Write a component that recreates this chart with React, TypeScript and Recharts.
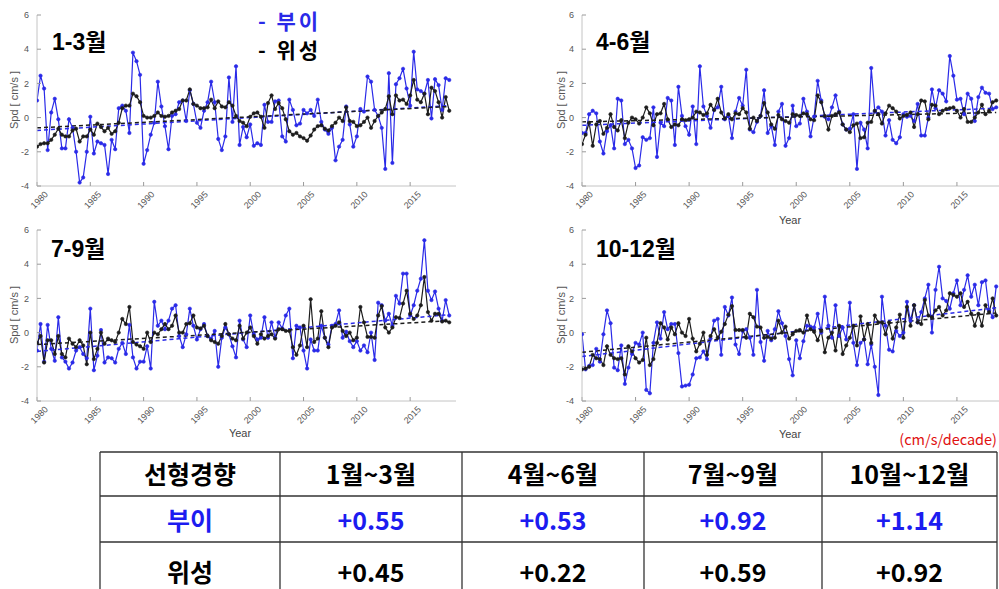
import React from 'react';
import { LineChart, Line, XAxis, YAxis, ReferenceLine } from 'recharts';

// ---------- data ----------
const START_YEAR = 1980;
const POINTS_PER_YEAR = 3;
const X_DOMAIN: [number, number] = [1980, 2019.3];
const Y_DOMAIN: [number, number] = [-4, 6];
const xTicks = [1980, 1985, 1990, 1995, 2000, 2005, 2010, 2015];
const yTicks = [-4, -2, 0, 2, 4, 6];

const panelTitles = ['1-3월', '4-6월', '7-9월', '10-12월'];
const legendLabels = ['- 부이', '- 위성'];

const buoyJanMar = [
  1.0, 2.45, 1.7, -1.9, 0.3, 1.1, -0.1, -1.8, -1.8, -0.1,
  -0.6, -2.0, -3.8, -3.5, -2.0, 0.05, -2.1, -1.4, -1.5, -1.6,
  -3.3, -1.3, -1.85, 0.55, 0.7, 0.4, -0.9, 3.8, 3.3, 2.5,
  -2.7, -1.9, -1.0, -0.3, 2.1, 0.65, -0.5, -1.85, 0.1, 0.2,
  0.9, 1.0, -0.2, 1.6, 0.8, -0.3, -0.6, 0.4, 0.9, 2.1,
  0.9, -1.25, -1.9, -1.1, 2.35, -0.25, 3.0, -1.6, -0.55, -1.15,
  -0.4, -1.65, -1.5, -1.6, 0.75, -0.25, -0.25, 0.95, 1.0, -1.1,
  -1.4, 1.05, 0.45, -0.45, -0.35, 0.45, 0.25, 0.45, 0.1, 1.05,
  -0.25, -0.7, -0.95, -0.6, -2.5, -1.7, -1.3, 0.65, -0.4, -1.7,
  -1.1, 0.5, 0.35, 2.4, 2.1, 0.45, 0.1, -0.6, -3.0, 2.6,
  -2.65, 1.95, 2.3, 2.85, 1.7, 0.7, 3.85, 1.65, 1.55, 1.4,
  2.2, -0.05, 2.25, 1.9, 0.45, 2.3, 2.2,
];
const satJanMar = [
  -1.7, -1.55, -1.5, -1.5, -1.3, -1.0, -0.65, -1.0, -1.1, -1.1,
  -0.75, -0.65, -1.4, -1.1, -1.1, -0.7, -1.0, -0.35, -0.55, -0.8,
  -0.6, -0.95, -0.8, -0.3, 0.55, 0.7, 0.7, 1.4, 1.25, 0.9,
  0.1, 0.0, 0.0, 0.1, 0.3, 0.1, 0.05, 0.1, 0.3, 0.4,
  0.5, 1.0, 1.0, 1.65, 0.8, 0.7, 0.55, 0.55, 0.6, 1.05,
  0.55, 0.95, 0.65, 0.6, 0.9, 0.7, 0.1, -0.2, -0.3, -0.5,
  0.05, 0.25, 0.3, 0.05, -0.6, 0.85, 1.3, 0.5, 0.85, 0.55,
  -0.1, -0.8, -1.0, -0.9, -1.1, -1.2, -1.35, -1.05, -0.7, -0.5,
  -0.45, -0.65, -0.75, -0.5, -0.3, 0.0, -0.2, 0.6, -0.2, -0.25,
  -0.5, -0.45, -0.25, 0.0, -0.6, -0.2, 0.1, 0.3, 0.5, 1.25,
  0.2, 1.3, 1.0, 1.05, 0.8, 1.3, 2.2, 1.05, 0.9, 1.4,
  0.2, 1.75, 1.55, 0.9, 0.0, 1.2, 0.4,
];

const buoyAprJun = [
  -0.9, -0.9, 0.2, 0.4, 0.25, -1.4, -2.1, -0.8, -0.45, -1.8,
  1.1, 1.0, -1.55, -1.3, -1.8, -2.95, -2.8, -1.15, -1.3, -1.2,
  0.6, -2.3, -0.3, -0.5, 1.15, 1.0, -1.6, 1.8, 0.1, -0.5,
  -1.0, 0.65, -1.55, 3.0, 0.65, 0.1, -0.6, 0.45, 0.6, 1.8,
  -0.1, 0.1, -1.2, 0.35, 1.15, 0.7, 2.8, -0.7, -0.85, -0.25,
  0.1, 1.6, -0.9, -0.5, -1.6, 0.35, 0.8, -1.65, -1.2, 0.7,
  -0.5, -0.35, 1.1, 0.35, -1.1, 0.05, 2.15, 1.0, 0.05, -0.1,
  0.6, 1.3, 0.35, -0.4, -0.7, -0.65, 0.2, -3.0, -0.3, -0.7,
  -1.8, 2.9, 0.35, 0.6, 0.35, -1.05, -0.15, -1.3, -1.5, -1.15,
  0.2, 0.05, 0.1, -0.2, 0.8, -1.05, -1.05, 0.0, 1.65, 0.55,
  1.6, 1.4, 0.95, 3.6, 2.45, 1.05, 1.1, 0.2, 1.4, 1.1,
  -0.2, 1.2, 1.75, 1.45, 1.4, 0.5, 0.6,
];
const satAprJun = [
  -1.55, -1.0, -0.3, -1.65, -0.4, -0.2, -0.95, -0.6, 0.2, -0.55,
  -0.75, -0.15, -1.2, -0.3, 0.0, -0.1, -0.35, 0.0, 0.6, 0.25,
  -0.45, 0.2, 0.25, 0.8, -0.1, -0.55, -0.4, -0.45, -0.1, -0.15,
  -0.1, 0.0, 0.35, 0.3, 0.15, 0.25, 0.75, 0.45, 1.1, 0.3,
  -0.05, 0.2, -0.1, 0.25, 0.2, 0.55, 0.3, -0.65, 0.0, -0.2,
  0.1, 0.85, 0.3, -0.4, -0.65, 0.15, -0.1, -0.2, -0.3, 0.2,
  0.15, 0.1, 0.25, 0.2, -0.1, -0.15, 1.3, 0.9, 0.1, -0.7,
  0.1, 0.2, 0.3, -0.4, -0.7, -0.85, -0.45, -0.35, -1.2, -1.15,
  -0.3, -0.25, 0.4, 0.2, -0.35, 0.25, 0.7, 0.55, 0.35, -0.05,
  0.1, 0.15, 0.3, -0.55, 0.2, 1.0, 0.95, -0.1, 0.75, 0.7,
  0.2, 0.4, 0.5, 0.55, 0.6, 0.4, 0.0, 0.5, -0.25, -0.25,
  0.0, 0.3, 0.75, 0.2, 0.4, 0.9, 1.0,
];

const buoyJulSep = [
  -1.05, 0.5, -1.7, 0.45, -0.95, -1.65, 0.9, -1.45, -1.7, -2.1,
  -1.75, -1.05, -0.85, -1.25, -1.5, 1.4, -2.2, -1.35, 0.15, -1.75,
  -1.45, -1.5, -1.75, -0.95, -0.6, -1.25, 0.45, -1.45, -2.1, -1.7,
  -1.7, -0.8, -2.1, 1.8, 0.4, 0.7, 0.2, 0.7, 1.4, 1.6,
  -0.2, -0.85, -0.1, 1.4, 0.4, -0.4, 0.2, 0.5, -0.2, -0.35,
  0.1, -2.0, -0.3, 0.3, -0.1, -0.8, -1.45, 0.7, -0.4, -0.85,
  1.0, -0.1, -0.4, -0.3, 0.9, -0.3, 0.6, -0.3, 0.6, 0.25,
  1.0, 1.4, -1.5, 0.4, 0.3, -1.05, -2.1, -0.4, -1.05, -1.05,
  0.4, -0.3, -0.7, 0.4, 0.5, 1.3, -0.3, 0.05, -0.5, -0.85,
  -0.5, -1.05, -0.75, -1.15, 0.0, -1.6, 1.75, 1.6, 0.7, 1.1,
  0.4, 2.15, 1.7, 3.45, 3.45, 1.0, 1.6, 2.45, 3.15, 5.4,
  2.45, 1.9, 2.4, 1.4, 0.7, 1.9, 1.0,
];
const satJulSep = [
  -0.6, -0.2, -1.75, -0.45, -0.45, -1.25, -0.2, -1.25, -1.45, -0.35,
  -0.65, -0.85, -0.45, -0.75, -1.85, 0.0, -1.55, -0.95, 0.0, -0.65,
  -0.35, -0.45, -0.55, 0.0, 0.8, 0.5, 1.5, -0.55, -0.7, -0.8,
  -0.95, 0.0, -0.55, 0.0, -0.1, 0.2, 0.5, 0.2, 0.4, 1.0,
  0.0, 0.0, 0.5, 0.55, 1.0, 0.3, 0.25, 0.4, -0.2, -0.45,
  -0.55, -0.65, -0.2, 0.5, -0.1, -0.35, -0.45, 0.4, -0.35, 0.0,
  0.3, -0.2, -0.65, -0.1, -0.35, -0.2, -0.1, -0.35, 0.2, 0.2,
  0.1, 0.1, -0.85, -1.3, -0.75, 0.4, -0.85, 1.95, -0.55, -0.35,
  1.25, -0.3, -0.85, 0.3, 0.4, 0.6, 0.1, -0.2, 0.0, -0.45,
  -0.3, 1.5, 0.6, -0.25, -0.25, -0.3, 1.0, 1.55, 0.3, 0.0,
  0.3, 0.9, 0.85, 1.7, 2.45, 1.1, 0.8, 1.0, 1.6, 3.25,
  1.2, 0.7, 1.1, 1.1, 0.65, 0.7, 0.6,
];

const buoyOctDec = [
  -0.1, -2.15, -1.95, -1.9, -0.95, -1.7, -0.1, 1.3, 0.55, -2.05,
  -2.2, -0.75, -3.0, -2.05, -1.25, -0.6, -0.7, 0.0, -3.35, -3.55,
  -0.6, 0.6, -0.35, 1.2, 0.2, 0.5, 0.5, -1.2, -3.15, -3.1,
  -3.05, -2.45, -1.5, -1.45, -1.1, -1.55, -0.35, 0.7, 0.8, -1.3,
  1.5, 1.0, 2.05, -0.7, -1.25, 0.1, 0.2, -0.3, -1.3, 2.5,
  -0.55, -1.65, 0.1, -0.45, 0.2, 1.25, 0.55, -0.2, -1.55, -2.5,
  -0.45, -1.5, -0.5, 0.4, 0.35, 0.3, 1.1, 0.0, 2.1, 0.4,
  -0.3, 1.6, -0.2, 0.3, -0.4, 1.75, -0.6, -1.9, -0.6, -0.4,
  -1.85, -0.7, -2.0, -3.65, 2.1, 0.4, -1.0, -1.1, 0.1, -0.2,
  0.0, 1.8, 0.7, 1.6, 0.6, 1.2, 2.0, 2.8, 0.0, 2.5,
  3.85, 2.0, 1.85, 1.4, 2.3, 3.05, 1.6, 2.5, 3.35, 2.1,
  2.8, 1.6, 2.95, 3.05, 1.3, 0.9, 2.7,
];
const satOctDec = [
  -2.15, -2.1, -2.0, -1.3, -1.5, -1.55, -1.9, -0.8, -1.3, -1.5,
  -1.55, -1.5, -2.45, -0.8, -1.1, -1.5, -1.75, -1.6, -0.3, -1.9,
  -1.55, -0.6, 0.55, 0.3, -0.4, 0.3, -0.1, 0.55, 0.0, -0.2,
  0.8, -0.35, -1.1, -0.65, 0.0, -1.3, -0.2, 0.2, -0.3, 0.05,
  0.5, 1.05, 1.55, 0.15, 0.15, 0.15, -0.3, 1.1, 0.9, 0.35,
  0.3, -0.3, -0.25, -0.35, -0.3, 0.7, 0.0, 0.35, -0.35, -0.1,
  0.1, 0.15, 0.0, 1.0, 0.2, 0.05, -0.45, 0.1, -1.15, -0.3,
  0.0, -1.05, 0.4, -1.25, -0.75, -0.3, 0.4, -0.75, 0.95, -0.4,
  0.5, -0.6, 1.0, 0.6, 0.6, -0.1, 0.6, -0.35, 0.3, 1.05,
  -0.3, 1.5, 0.4, 1.6, 0.6, 0.5, 1.9, 1.0, 0.9, 1.3,
  1.5, 1.0, 1.3, 2.3, 2.2, 2.1, 2.3, 1.5, 1.8, 1.1,
  0.4, 1.1, 0.4, 1.6, 1.2, 2.0, 1.0,
];

// linear-trend end values [start, end]
const trendBuoy = [[-0.75, 0.7], [-0.45, 0.55], [-1.1, 1.05], [-1.4, 1.45]];
const trendSat = [[-0.6, 0.65], [-0.25, 0.3], [-0.7, 0.7], [-1.15, 1.15]];

// table
const tableHeader = ['선형경향', '1월~3월', '4월~6월', '7월~9월', '10월~12월'];
const tableBuoy = ['부이', '+0.55', '+0.53', '+0.92', '+1.14'];
const tableSat = ['위성', '+0.45', '+0.22', '+0.59', '+0.92'];
const unitLabel = '(cm/s/decade)';

// ---------- styles ----------
const BLUE = '#2a2ae8';
const BLACK = '#1c1c1c';
const AXIS = '#c4c4c4';
const TICKLINE = '#9a9a9a';
const TICK_TEXT = '#555555';
const FONT = '"Liberation Sans", Arial, "Noto Sans CJK KR", sans-serif';
const KFONT = '"Noto Sans CJK KR", "Liberation Sans", sans-serif';

const panels = [
  { buoy: buoyJanMar, sat: satJanMar, left: 0, top: 0, width: 470, mLeft: 0, mRight: 14 },
  { buoy: buoyAprJun, sat: satAprJun, left: 530, top: 0, width: 480, mLeft: 15, mRight: 7 },
  { buoy: buoyJulSep, sat: satJulSep, left: 0, top: 215, width: 470, mLeft: 0, mRight: 14 },
  { buoy: buoyOctDec, sat: satOctDec, left: 530, top: 215, width: 480, mLeft: 15, mRight: 7 },
];

function buildRows(b: number[], s: number[]) {
  return b.map((v, i) => ({ x: START_YEAR + i / POINTS_PER_YEAR, b: v, s: s[i] }));
}

const XTick = (props: any) => {
  const { x, y, payload } = props;
  const ax = x + 11.5;
  const ay = y + 13;
  return (
    <text x={ax} y={ay} transform={`rotate(-45 ${ax} ${ay})`} textAnchor="end" fontSize={9} fill={TICK_TEXT} fontFamily={FONT}>
      {payload.value}
    </text>
  );
};

function Panel({ idx }: { idx: number }) {
  const p = panels[idx];
  const rows = buildRows(p.buoy, p.sat);
  const lastX = rows[rows.length - 1].x;
  const tb = trendBuoy[idx];
  const ts = trendSat[idx];
  return (
    <div style={{ position: 'absolute', left: p.left, top: p.top }}>
      <LineChart width={p.width} height={230} data={rows} margin={{ top: 15, right: p.mRight, left: p.mLeft, bottom: 14 }}>
        <XAxis dataKey="x" type="number" domain={X_DOMAIN} allowDataOverflow ticks={xTicks} interval={0} height={30}
          tickSize={-4} tickMargin={0} tick={<XTick />} axisLine={{ stroke: AXIS }} tickLine={{ stroke: TICKLINE }} />
        <XAxis xAxisId="top" orientation="top" type="number" domain={X_DOMAIN} allowDataOverflow ticks={xTicks} interval={0} height={0}
          tickSize={-4} tick={false} axisLine={{ stroke: AXIS }} tickLine={{ stroke: TICKLINE }} />
        <YAxis type="number" domain={Y_DOMAIN} allowDataOverflow ticks={yTicks} interval={0} width={37}
          tickSize={-4} tickMargin={12} tick={{ fontSize: 9, fill: TICK_TEXT, fontFamily: FONT }} axisLine={{ stroke: AXIS }} tickLine={{ stroke: TICKLINE }} />
        <YAxis yAxisId="right" orientation="right" type="number" domain={Y_DOMAIN} allowDataOverflow ticks={yTicks} interval={0} width={0}
          tickSize={-4} tick={false} axisLine={{ stroke: AXIS }} tickLine={{ stroke: TICKLINE }} />
        <Line dataKey="b" stroke={BLUE} strokeWidth={1.2} isAnimationActive={false}
          dot={{ r: 1.7, fill: BLUE, stroke: BLUE, strokeWidth: 0.6 }} activeDot={false} />
        <Line dataKey="s" stroke={BLACK} strokeWidth={1.2} isAnimationActive={false}
          dot={{ r: 1.7, fill: BLACK, stroke: BLACK, strokeWidth: 0.6 }} activeDot={false} />
        <ReferenceLine segment={[{ x: START_YEAR, y: tb[0] }, { x: lastX, y: tb[1] }]} stroke={BLUE} strokeWidth={1.5} strokeDasharray="4 3" />
        <ReferenceLine segment={[{ x: START_YEAR, y: ts[0] }, { x: lastX, y: ts[1] }]} stroke={BLACK} strokeWidth={1.5} strokeDasharray="4 3" />
      </LineChart>
    </div>
  );
}

// table geometry
const colEdges = [100, 280, 462, 644, 822, 997];
const rowEdges = [452, 496, 542, 600];
const rowBaselines = [484, 530, 582];

export default function App() {
  const titlePos = [[52, 50], [596, 50], [51, 257], [596, 257]];
  const ylabPos = [[14, 100], [561, 100], [14, 315], [561, 315]];
  const yearPos = [[790, 224], [240, 437], [790, 438]];
  const tableRows = [tableHeader, tableBuoy, tableSat];
  return (
    <div style={{ position: 'absolute', left: 0, top: 0, width: 999, height: 589, overflow: 'hidden', background: '#fff' }}>
      {panels.map((_, i) => <Panel key={i} idx={i} />)}
      <svg width={999} height={589} style={{ position: 'absolute', left: 0, top: 0, pointerEvents: 'none' }}>
        {panelTitles.map((t, i) => (
          <text key={t} x={titlePos[i][0]} y={titlePos[i][1]} fontSize={23} fontWeight="bold" fontFamily={FONT} fill="#000">{t}</text>
        ))}
        <text x={258} y={29} fontSize={21} fontWeight="bold" fontFamily={KFONT} letterSpacing={3} fill={BLUE}>{legendLabels[0]}</text>
        <text x={258} y={58} fontSize={21} fontWeight="bold" fontFamily={KFONT} letterSpacing={3} fill="#000">{legendLabels[1]}</text>
        {ylabPos.map(([x, y], i) => (
          <text key={i} x={x} y={y} transform={`rotate(-90 ${x} ${y})`} textAnchor="middle" dominantBaseline="central" fontSize={11} fontFamily={FONT} fill={TICK_TEXT}>Spd [ cm/s ]</text>
        ))}
        {yearPos.map(([x, y], i) => (
          <text key={i} x={x} y={y} textAnchor="middle" fontSize={11} fontFamily={FONT} fill="#444">Year</text>
        ))}
        <text x={997} y={445} textAnchor="end" fontSize={14.5} fontFamily={KFONT} fill="#e01010">{unitLabel}</text>
        {/* table */}
        {rowEdges.map((y, i) => (
          <line key={'h' + i} x1={colEdges[0]} x2={colEdges[colEdges.length - 1]} y1={y} y2={y} stroke="#333" strokeWidth={1.3} />
        ))}
        {colEdges.map((x, i) => (
          <line key={'v' + i} x1={x} x2={x} y1={rowEdges[0]} y2={rowEdges[rowEdges.length - 1]} stroke="#333" strokeWidth={1.3} />
        ))}
        {tableRows.map((row, r) =>
          row.map((cell, c) => (
            <text key={r + '-' + c} x={(colEdges[c] + colEdges[c + 1]) / 2} y={rowBaselines[r]} textAnchor="middle"
              fontSize={25} fontWeight="bold" fontFamily={KFONT} fill={r === 1 ? '#1c1cf0' : '#000'}>{cell}</text>
          ))
        )}
      </svg>
    </div>
  );
}
